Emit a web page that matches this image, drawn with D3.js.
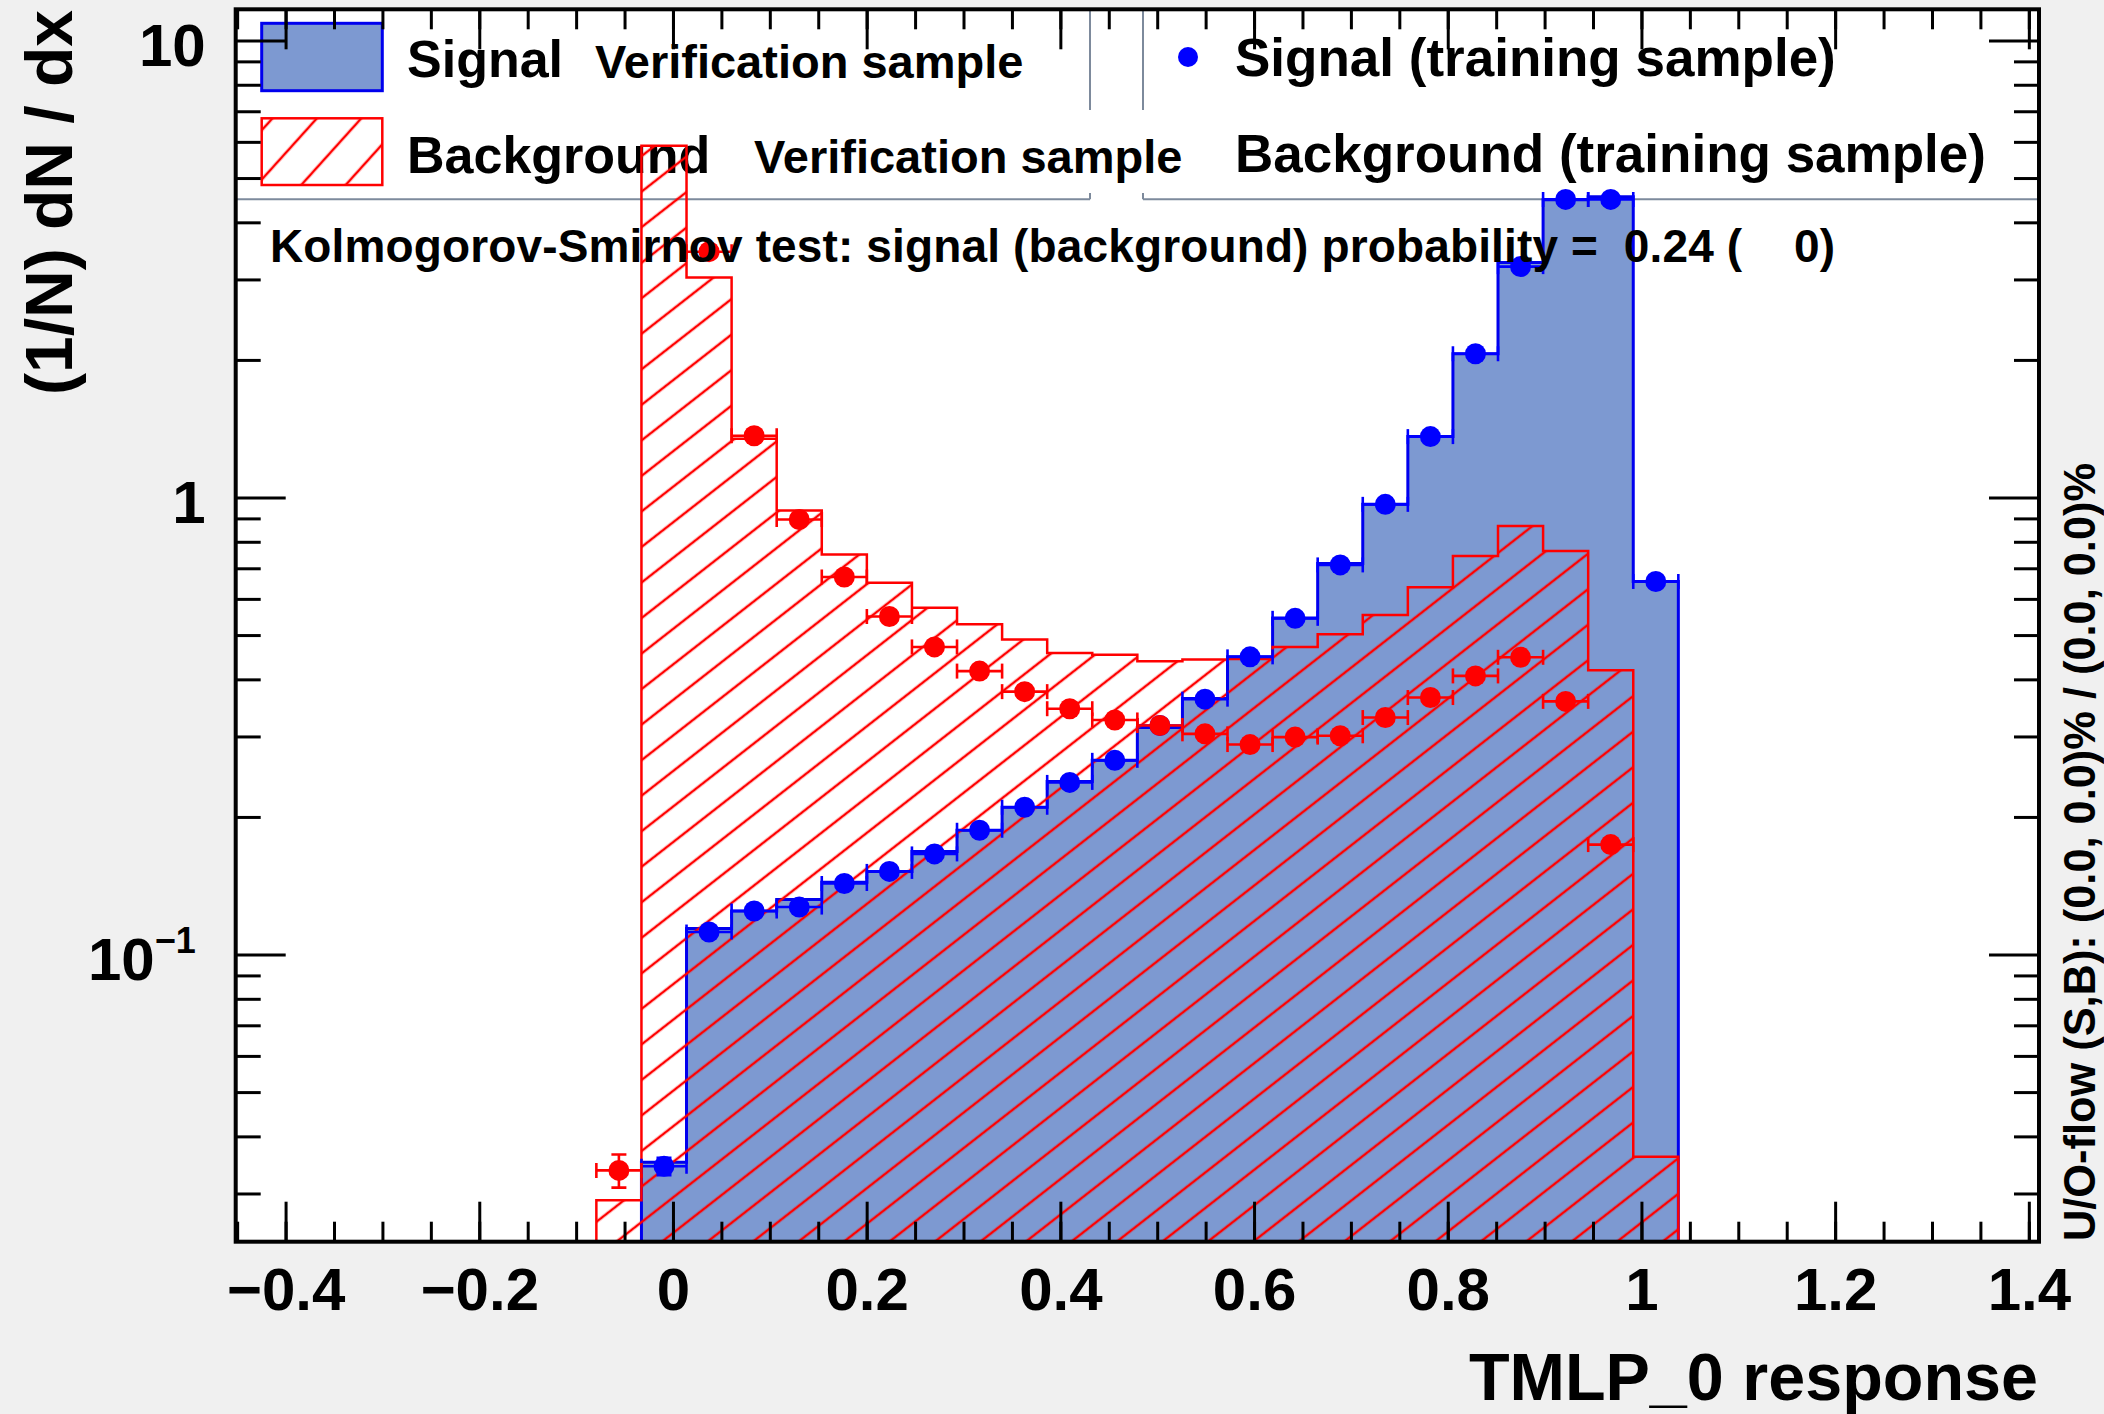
<!DOCTYPE html>
<html><head><meta charset="utf-8">
<script src="https://cdn.jsdelivr.net/npm/d3@7"></script>
<style>
html,body{margin:0;padding:0;background:#f0f0f0;overflow:hidden;}
svg{display:block;}
svg text{font-family:"Liberation Sans",Arial,Helvetica,sans-serif;font-weight:bold;fill:#000;}
</style></head><body>
<svg id="c" width="2104" height="1414"></svg>
<script>
// ---- data ----
const xMin = -0.4515, xMax = 1.4105, nBins = 40, firstBin = 8;
// bins 8..31 (bin width = (xMax-xMin)/nBins)
const sigTest  = [0, 0.0351, 0.114, 0.1245, 0.132, 0.144, 0.152, 0.168, 0.187, 0.210, 0.239, 0.266, 0.314, 0.363, 0.448, 0.545, 0.717, 0.966, 1.359, 2.063, 3.266, 4.48, 4.55, 0.655];
const bkgTest  = [0.029, 5.88, 3.03, 1.345, 0.937, 0.750, 0.651, 0.574, 0.528, 0.489, 0.457, 0.453, 0.438, 0.442, 0.443, 0.471, 0.502, 0.553, 0.636, 0.745, 0.866, 0.764, 0.419, 0.0361];
const sigTrain = [null, 0.0344, 0.112, 0.1245, 0.127, 0.143, 0.152, 0.166, 0.187, 0.210, 0.238, 0.266, 0.317, 0.362, 0.448, 0.544, 0.712, 0.966, 1.359, 2.063, 3.20, 4.49, 4.49, 0.655];
const bkgTrain = [0.0337, null, 3.45, 1.365, 0.895, 0.670, 0.549, 0.471, 0.417, 0.376, 0.345, 0.326, 0.317, 0.304, 0.288, 0.299, 0.301, 0.330, 0.365, 0.407, 0.447, 0.358, 0.174, null];
const sigTrainErr = [0, 0.0015, 0.002, 0.002, 0.002, 0.002, 0.002, 0.002, 0.002, 0.002, 0.002, 0.002, 0.003, 0.003, 0.003, 0.004, 0.005, 0.006, 0.008, 0.01, 0.015, 0.02, 0.02, 0.006];
const bkgTrainErr = [0.0028, 0, 0.02, 0.01, 0.008, 0.006, 0.005, 0.005, 0.004, 0.004, 0.004, 0.004, 0.004, 0.004, 0.004, 0.004, 0.004, 0.004, 0.004, 0.005, 0.005, 0.005, 0.004, 0];
const xTickMajor = [-0.4, -0.2, 0, 0.2, 0.4, 0.6, 0.8, 1, 1.2, 1.4];
const xTickLabels = ["\u22120.4", "\u22120.2", "0", "0.2", "0.4", "0.6", "0.8", "1", "1.2", "1.4"];
const yTickMajor = [0.1, 1, 10];
const yTickLabels = ["10^-1", "1", "10"];
const legend1 = ["Signal", "Background"];
const legend1Sub = "Verification sample";
const legend2 = ["Signal (training sample)", "Background (training sample)"];
const ksText = "Kolmogorov-Smirnov test: signal (background) probability =  0.24 (    0)";
const xTitle = "TMLP_0 response";
const yTitle = "(1/N) dN / dx";
const rightText = "U/O-flow (S,B): (0.0, 0.0)% / (0.0, 0.0)%";

// ---- layout ----
const L = 235.7, R = 2039, T = 9.3, B = 1241.7;
const sigFill = "#7d99d1", sigLine = "#0000ee", bkgCol = "#ff0000", legBorder = "#7d8a9c";

const svg = d3.select("#c");
svg.append("rect").attr("width", 2104).attr("height", 1414).attr("fill", "#f0f0f0");
const defs = svg.append("defs");
const pat = defs.append("pattern").attr("id", "hatch").attr("patternUnits", "userSpaceOnUse")
  .attr("width", 40).attr("height", 28).attr("patternTransform", "rotate(-38)");
pat.append("line").attr("x1", 0).attr("y1", 14).attr("x2", 40).attr("y2", 14)
  .attr("stroke", bkgCol).attr("stroke-width", 2.3);
const pat2 = defs.append("pattern").attr("id", "hatchLeg").attr("patternUnits", "userSpaceOnUse")
  .attr("width", 40).attr("height", 33).attr("patternTransform", "translate(262,118) rotate(-48)");
pat2.append("line").attr("x1", 0).attr("y1", 8).attr("x2", 40).attr("y2", 8)
  .attr("stroke", bkgCol).attr("stroke-width", 2.3);
defs.append("clipPath").attr("id", "frameClip").append("rect")
  .attr("x", L).attr("y", T).attr("width", R - L).attr("height", B - T);

const x = d3.scaleLinear().domain([xMin, xMax]).range([L, R]);
const y = d3.scaleLog().domain([0.02353, 11.7]).range([B, T]);
const bw = (xMax - xMin) / nBins;
const edge = k => xMin + k * bw;

svg.append("rect").attr("x", L).attr("y", T).attr("width", R - L).attr("height", B - T).attr("fill", "#fff");

// ---- legend 1 ----
const lg = svg.append("g");
lg.append("rect").attr("x", 261.7).attr("y", 23.3).attr("width", 120.6).attr("height", 67.4)
  .attr("fill", sigFill).attr("stroke", sigLine).attr("stroke-width", 3);
lg.append("rect").attr("x", 261.7).attr("y", 118.3).attr("width", 120.6).attr("height", 66.7)
  .attr("fill", "url(#hatchLeg)").attr("stroke", bkgCol).attr("stroke-width", 2.5);
lg.append("text").attr("x", 407).attr("y", 76.7).attr("font-size", 52).text(legend1[0]);
lg.append("text").attr("x", 595).attr("y", 78).attr("font-size", 47).text(legend1Sub);
lg.append("text").attr("x", 407).attr("y", 173).attr("font-size", 52).text(legend1[1]);
lg.append("text").attr("x", 754).attr("y", 173).attr("font-size", 47).text(legend1Sub);
// ---- legend 2 ----
lg.append("circle").attr("cx", 1188).attr("cy", 57).attr("r", 10).attr("fill", "#0000ff");
lg.append("text").attr("x", 1235).attr("y", 76).attr("font-size", 53).text(legend2[0]);
lg.append("text").attr("x", 1235).attr("y", 172).attr("font-size", 53).text(legend2[1]);
// borders
const bl = [[L, 199.3, 1090, 199.3], [1143, 199.3, R, 199.3], [1090, T, 1090, 110], [1090, 193, 1090, 199.3], [1143, T, 1143, 110], [1143, 193, 1143, 199.3]];
lg.selectAll("line.b").data(bl).join("line").attr("class", "b")
  .attr("x1", d => d[0]).attr("y1", d => d[1]).attr("x2", d => d[2]).attr("y2", d => d[3])
  .attr("stroke", legBorder).attr("stroke-width", 2);

// ---- histograms ----
function histPoints(vals) {
  const pts = [];
  let first = -1, last = -1;
  vals.forEach((v, i) => { if (v > 0) { if (first < 0) first = i; last = i; } });
  pts.push([x(edge(firstBin + first)), B]);
  for (let i = first; i <= last; i++) {
    const v = vals[i] > 0 ? vals[i] : 1e-6;
    pts.push([x(edge(firstBin + i)), Math.min(B, y(v))]);
    pts.push([x(edge(firstBin + i + 1)), Math.min(B, y(v))]);
  }
  pts.push([x(edge(firstBin + last + 1)), B]);
  return pts;
}
const line = d3.line();
const hg = svg.append("g").attr("clip-path", "url(#frameClip)");
const sp = histPoints(sigTest);
hg.append("path").attr("d", line(sp) + "Z").attr("fill", sigFill).attr("stroke", "none");
hg.append("path").attr("d", line(sp)).attr("fill", "none").attr("stroke", sigLine).attr("stroke-width", 3);
const bp = histPoints(bkgTest);
hg.append("path").attr("d", line(bp) + "Z").attr("fill", "url(#hatch)").attr("stroke", "none");
hg.append("path").attr("d", line(bp)).attr("fill", "none").attr("stroke", bkgCol).attr("stroke-width", 2.5);

// ---- training points ----
function drawPoints(vals, errs, col) {
  const g = svg.append("g").attr("clip-path", "url(#frameClip)");
  const data = vals.map((v, i) => ({ v, e: errs[i], k: firstBin + i })).filter(d => d.v != null && d.v > 0);
  const capH = 7.5;
  data.forEach(d => {
    const x0 = x(edge(d.k)), x1 = x(edge(d.k + 1)), xc = x(edge(d.k) + bw / 2), yc = y(d.v);
    g.append("line").attr("x1", x0).attr("x2", x1).attr("y1", yc).attr("y2", yc).attr("stroke", col).attr("stroke-width", 2.6);
    g.append("line").attr("x1", x0).attr("x2", x0).attr("y1", yc - capH).attr("y2", yc + capH).attr("stroke", col).attr("stroke-width", 2.6);
    g.append("line").attr("x1", x1).attr("x2", x1).attr("y1", yc - capH).attr("y2", yc + capH).attr("stroke", col).attr("stroke-width", 2.6);
    if (d.e > 0) {
      g.append("line").attr("x1", xc).attr("x2", xc).attr("y1", y(d.v + d.e)).attr("y2", y(d.v - d.e)).attr("stroke", col).attr("stroke-width", 2.6);
      g.append("line").attr("x1", xc - capH).attr("x2", xc + capH).attr("y1", y(d.v + d.e)).attr("y2", y(d.v + d.e)).attr("stroke", col).attr("stroke-width", 2.6);
      g.append("line").attr("x1", xc - capH).attr("x2", xc + capH).attr("y1", y(d.v - d.e)).attr("y2", y(d.v - d.e)).attr("stroke", col).attr("stroke-width", 2.6);
    }
    g.append("circle").attr("cx", xc).attr("cy", yc).attr("r", 10.5).attr("fill", col);
  });
}
drawPoints(sigTrain, sigTrainErr, "#0000ff");
drawPoints(bkgTrain, bkgTrainErr, "#ff0000");

// ---- KS text ----
svg.append("text").attr("x", 270).attr("y", 261.7).attr("font-size", 46)
  .attr("textLength", 1565).attr("lengthAdjust", "spacing")
  .style("white-space", "pre").attr("xml:space", "preserve").text(ksText);

// ---- axes ----
const xMinor = d3.range(-9, 29).map(i => +(i * 0.05).toFixed(2));
const yMinor = [];
[0.01, 0.1, 1].forEach(dec => { for (let m = 2; m <= 9; m++) { const v = +(m * dec).toPrecision(3); if (v > 0.02353 && v < 11.7) yMinor.push(v); } });

function styleAxis(g) {
  g.select(".domain").remove();
  g.selectAll(".tick line").attr("stroke", "#000").attr("stroke-width", 3);
  g.attr("font-size", null).attr("font-family", null);
}
// bottom
svg.append("g").attr("transform", `translate(0,${B})`)
  .call(d3.axisBottom(x).tickValues(xMinor).tickSize(-20).tickFormat("")).call(styleAxis);
const bx = svg.append("g").attr("transform", `translate(0,${B})`)
  .call(d3.axisBottom(x).tickValues(xTickMajor).tickSize(-40).tickPadding(26)
    .tickFormat((d, i) => xTickLabels[i])).call(styleAxis);
bx.selectAll("text").attr("font-size", 60).attr("fill", "#000");
// top
svg.append("g").attr("transform", `translate(0,${T})`)
  .call(d3.axisTop(x).tickValues(xMinor).tickSize(-20).tickFormat("")).call(styleAxis);
svg.append("g").attr("transform", `translate(0,${T})`)
  .call(d3.axisTop(x).tickValues(xTickMajor).tickSize(-40).tickFormat("")).call(styleAxis);
// left
svg.append("g").attr("transform", `translate(${L},0)`)
  .call(d3.axisLeft(y).tickValues(yMinor).tickSize(-25).tickFormat("")).call(styleAxis);
const ly = svg.append("g").attr("transform", `translate(${L},0)`)
  .call(d3.axisLeft(y).tickValues(yTickMajor).tickSize(-50).tickPadding(30)
    .tickFormat((d, i) => yTickLabels[i])).call(styleAxis);
ly.selectAll("text").attr("font-size", 60).attr("fill", "#000").attr("dy", "0.42em")
  .each(function (d, i) {
    const t = d3.select(this);
    if (yTickLabels[i] === "10^-1") {
      t.text("10").attr("x", -40);
      t.append("tspan").attr("font-size", 36).attr("dy", "-0.75em").text("\u22121");
    }
  });
// right
svg.append("g").attr("transform", `translate(${R},0)`)
  .call(d3.axisRight(y).tickValues(yMinor).tickSize(-25).tickFormat("")).call(styleAxis);
svg.append("g").attr("transform", `translate(${R},0)`)
  .call(d3.axisRight(y).tickValues(yTickMajor).tickSize(-50).tickFormat("")).call(styleAxis);

// frame
svg.append("rect").attr("x", L).attr("y", T).attr("width", R - L).attr("height", B - T)
  .attr("fill", "none").attr("stroke", "#000").attr("stroke-width", 4);

// titles
svg.append("text").attr("x", 2038).attr("y", 1400).attr("text-anchor", "end").attr("font-size", 66.5).text(xTitle);
svg.append("text").attr("transform", "translate(72,10) rotate(-90)").attr("text-anchor", "end").attr("font-size", 66).text(yTitle);
svg.append("text").attr("transform", "translate(2095,1241) rotate(-90)").attr("text-anchor", "start")
  .attr("font-size", 44).attr("textLength", 778).attr("lengthAdjust", "spacingAndGlyphs").text(rightText);
</script>
</body></html>
